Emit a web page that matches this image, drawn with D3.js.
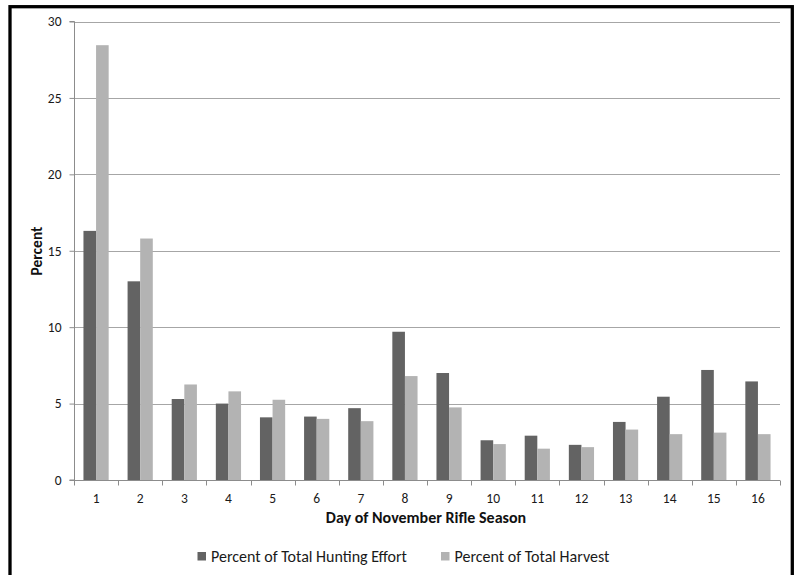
<!DOCTYPE html>
<html>
<head>
<meta charset="utf-8">
<script src="https://cdn.jsdelivr.net/npm/d3@7"></script>
<style>
  html, body { margin: 0; padding: 0; background: #fff; }
  svg { display: block; font-family: Calibri, Carlito, Lato, "Open Sans", sans-serif; }
</style>
</head>
<body>
<svg id="chart" width="800" height="575"></svg>
<script>
// Day of the November rifle season
const days = ["1","2","3","4","5","6","7","8","9","10","11","12","13","14","15","16"];
// Percent of total hunting effort per day
const effort = [16.3, 13.0, 5.3, 5.0, 4.1, 4.15, 4.7, 9.7, 7.0, 2.6, 2.9, 2.3, 3.8, 5.45, 7.2, 6.45];
// Percent of total harvest per day
const harvest = [28.45, 15.8, 6.25, 5.8, 5.25, 4.0, 3.85, 6.8, 4.75, 2.35, 2.05, 2.15, 3.3, 3.0, 3.1, 3.0];
const seriesNames = ["Percent of Total Hunting Effort", "Percent of Total Harvest"];
const seriesColors = ["#636363", "#b3b3b3"];
const yTicks = [0, 5, 10, 15, 20, 25, 30];

const svg = d3.select("#chart");

// outer frame
svg.append("rect")
  .attr("x", 10).attr("y", 6.7)
  .attr("width", 782.3).attr("height", 590)
  .attr("fill", "none").attr("stroke", "#000").attr("stroke-width", 3.3);

const plotL = 74, plotR = 780, plotT = 21.5, plotB = 480;

const x = d3.scaleBand().domain(days).range([plotL, plotR]).padding(0);
// two bars per day; the outer gaps are 0.75 bar-width each
const inner = d3.scaleBand().domain([0, 1]).range([0, x.bandwidth()])
  .paddingInner(0).paddingOuter(0.75);
const y = d3.scaleLinear().domain([0, 30]).range([plotB, plotT]);

// horizontal gridlines
svg.append("g")
  .selectAll("line")
  .data(yTicks.filter(t => t > 0))
  .join("line")
  .attr("x1", plotL).attr("x2", plotR)
  .attr("y1", d => Math.round(y(d)) + 0.5).attr("y2", d => Math.round(y(d)) + 0.5)
  .attr("stroke", "#a6a6a6").attr("stroke-width", 1.2);

// bars
const rows = days.map((d, i) => ({ day: d, vals: [effort[i], harvest[i]] }));
const groups = svg.append("g").selectAll("g")
  .data(rows).join("g")
  .attr("transform", d => `translate(${x(d.day)},0)`);
groups.selectAll("rect")
  .data(d => d.vals.map((v, k) => ({ v, k })))
  .join("rect")
  .attr("x", d => inner(d.k))
  .attr("width", inner.bandwidth())
  .attr("y", d => y(d.v))
  .attr("height", d => plotB - y(d.v))
  .attr("fill", d => seriesColors[d.k]);

// y axis
const yAxis = d3.axisLeft(y).tickValues(yTicks).tickSize(5).tickPadding(8).tickFormat(d3.format("d"));
const gy = svg.append("g").attr("transform", `translate(${plotL + 0.5},0)`).call(yAxis);
gy.attr("font-family", null).attr("font-size", null);
gy.select(".domain").attr("stroke", "#8c8c8c").attr("d", `M-5,${plotT}H0V${plotB}H-5`);
gy.selectAll(".tick line").attr("stroke", "#8c8c8c");
gy.selectAll(".tick text").attr("font-size", 13.5).attr("fill", "#1a1a1a");

// x axis with ticks at category boundaries
const gx = svg.append("g").attr("transform", `translate(0,${plotB + 0.5})`);
gx.append("line").attr("x1", plotL).attr("x2", plotR).attr("stroke", "#8c8c8c");
gx.selectAll("line.tk")
  .data(days.concat(["end"]))
  .join("line").attr("class", "tk")
  .attr("x1", (d, i) => Math.round(plotL + i * x.step()) + 0.5)
  .attr("x2", (d, i) => Math.round(plotL + i * x.step()) + 0.5)
  .attr("y1", 0).attr("y2", 5)
  .attr("stroke", "#8c8c8c");
gx.selectAll("text")
  .data(days).join("text")
  .attr("x", d => x(d) + x.bandwidth() / 2)
  .attr("y", 22.5)
  .attr("text-anchor", "middle")
  .attr("font-size", 13.5).attr("fill", "#1a1a1a")
  .text(d => d);

// axis titles
svg.append("text")
  .attr("x", 426).attr("y", 523)
  .attr("text-anchor", "middle")
  .attr("font-size", 16).attr("font-weight", "bold").attr("fill", "#111")
  .text("Day of November Rifle Season");
svg.append("text")
  .attr("transform", "translate(41.5,251) rotate(-90)")
  .attr("text-anchor", "middle")
  .attr("font-size", 15.5).attr("font-weight", "bold").attr("fill", "#111")
  .text("Percent");

// legend
const legendX = [197.5, 441];
const lg = svg.append("g").selectAll("g")
  .data(seriesNames).join("g")
  .attr("transform", (d, i) => `translate(${legendX[i]},552)`);
lg.append("rect").attr("width", 8.5).attr("height", 8.5).attr("fill", (d, i) => seriesColors[i]);
lg.append("text").attr("x", 13.5).attr("y", 9.8)
  .attr("font-size", 16).attr("fill", "#1a1a1a")
  .text(d => d);
</script>
</body>
</html>
